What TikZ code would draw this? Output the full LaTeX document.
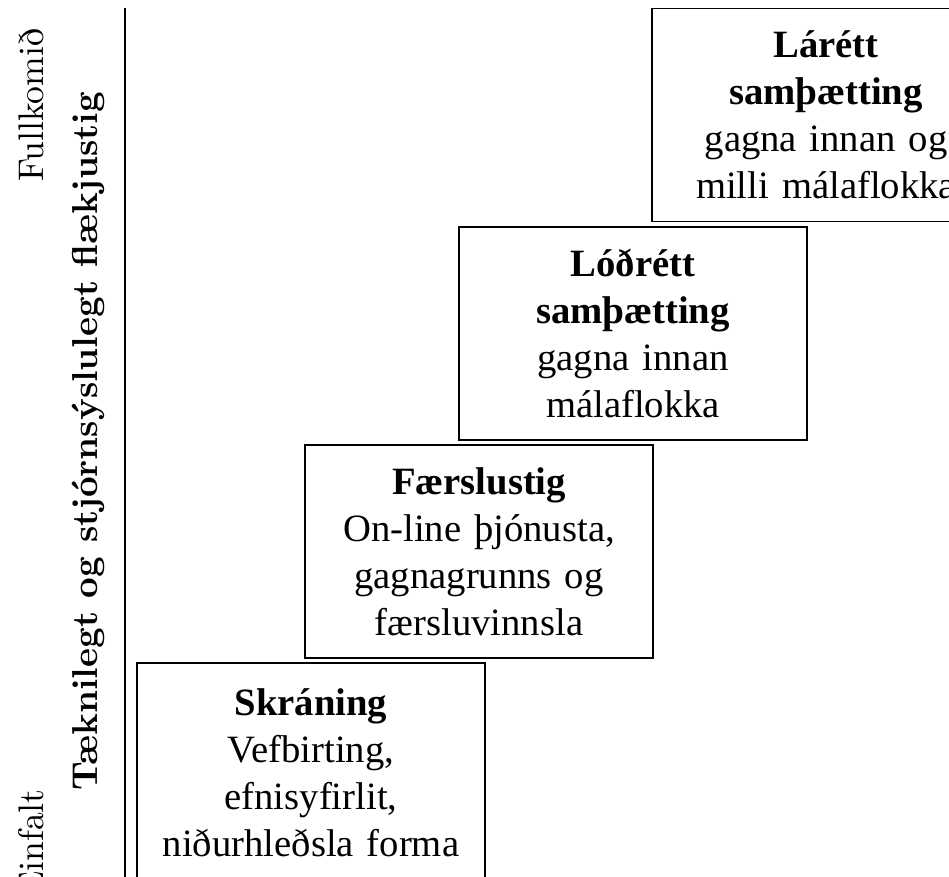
\documentclass[tikz,border=0pt]{standalone}
\usepackage{fontspec}
\newfontfamily\boxfont{Liberation Serif}
\newfontfamily\cmfont{lmroman10-regular.otf}[BoldFont=lmroman10-bold.otf]
\begin{document}
\begin{tikzpicture}[x=0.75pt,y=-0.75pt,
  stage/.style={draw=black, line width=1.3pt, rectangle, minimum width=261pt,
    minimum height=159.75pt, inner sep=0pt, align=center, text width=255pt,
    font=\boxfont\fontsize{29}{35.25}\selectfont},
  axislabel/.style={rotate=90, inner sep=0pt, font=\cmfont\fontsize{26.7}{32}\selectfont},
  axisline/.style={draw=black, line width=1.3pt}]
\useasboundingbox (0,0) rectangle (949,877);
\clip (0,0) rectangle (949,877);
\fill[white] (0,0) rectangle (949,877);

% axis
\coordinate (axtop) at (125,8);
\coordinate (axbot) at (125,880);
\draw[axisline] (axtop) -- (axbot);

% axis labels
\node[axislabel, anchor=base west] (full) at (43,182) {Fullkomið};
\node[axislabel, anchor=base east] (einf) at (43,789) {Einfalt};
\node[axislabel, anchor=base west, font=\cmfont\bfseries\fontsize{27}{32}\selectfont] (title) at (97,791)
  {Tæknilegt og stjórnsýslulegt flækjustig};

% stages
\node[stage, minimum height=165pt] (s1) at (311,773) {\textbf{Skráning}\\Vefbirting,\\efnisyfirlit,\\niðurhleðsla forma};
\node[stage] (s2) at (479,551.5) {\textbf{Færslustig}\\On-line þjónusta,\\gagnagrunns og\\færsluvinnsla};
\node[stage] (s3) at (633,333.5) {\textbf{Lóðrétt}\\\textbf{samþætting}\\gagna innan\\málaflokka};
\node[stage] (s4) at (826,115) {\textbf{Lárétt}\\\textbf{samþætting}\\gagna innan og\\milli málaflokka};
\end{tikzpicture}
\end{document}
